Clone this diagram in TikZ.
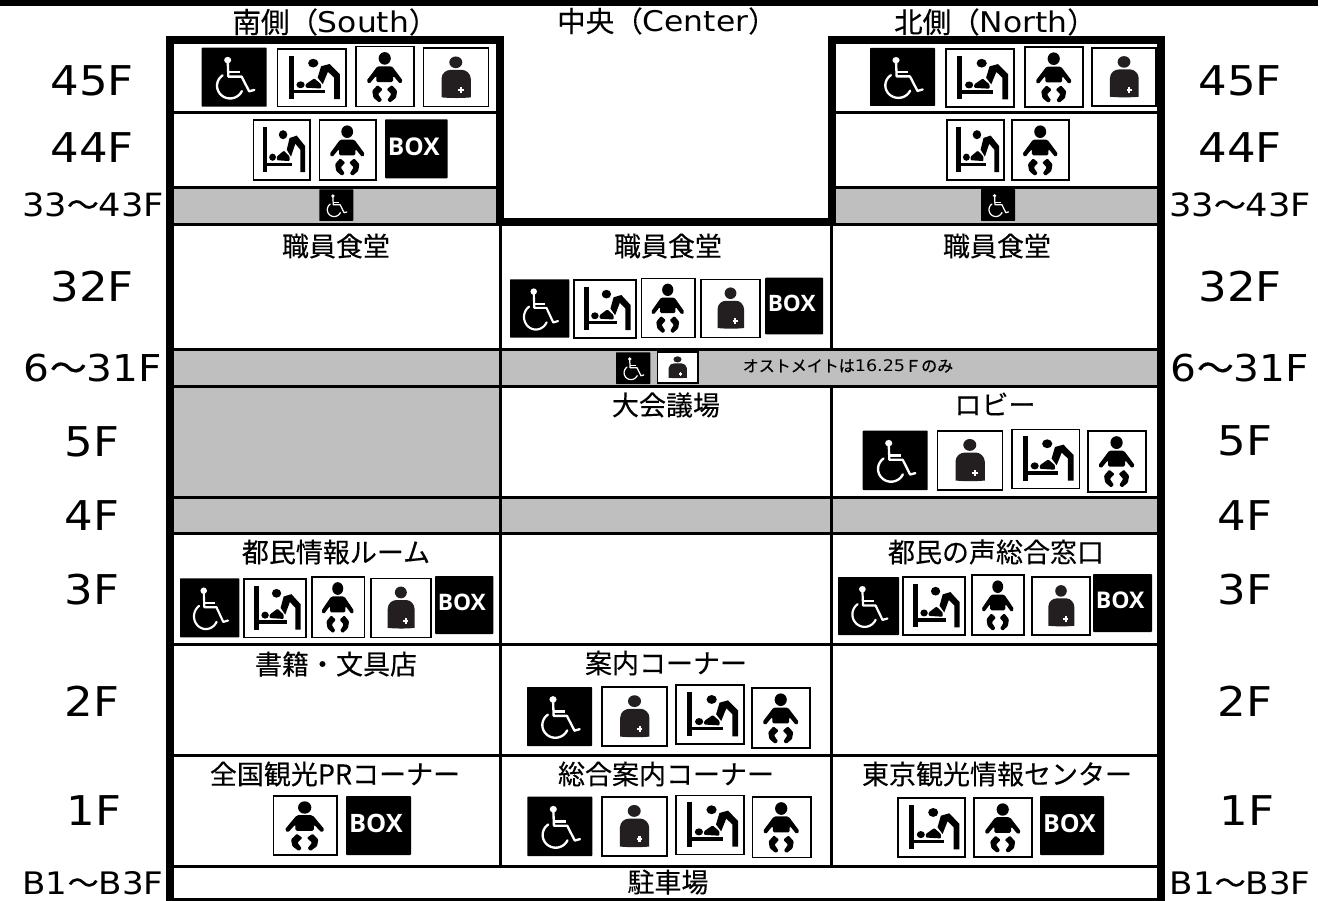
\documentclass[tikz,border=0pt]{standalone}
\usepackage{fontspec}
\setmainfont{Noto Sans CJK JP}[FakeBold=0.25]
\newfontfamily\notefont{Noto Sans CJK JP}[FakeBold=0.5]
\newfontfamily\lat{DejaVu Sans}[FakeStretch=1.1]
\newfontfamily\boxf{Open Sans}
\definecolor{band}{HTML}{BFBFBF}
\definecolor{ink}{HTML}{231F20}
\newcommand\fz[1]{\fontsize{#1}{#1}\selectfont}
\newcommand\icwc{%
  \fill[black,rounded corners=0.6pt] (0,0) rectangle (100,100);
  \pgfmathsetmacro\lw{\wid*0.036}
  \fill[white] (40,21) circle[radius=5.5pt];
  \draw[white,line width=\lw pt,line join=round,line cap=round] (40,22) -- (41,49) -- (61.5,49) -- (73,74) -- (81,71.5);
  \draw[white,line width=\lw pt] (41,41.7) -- (59,41.7);
  \draw[white,line width=\lw pt,line cap=round] plot[domain=125:335,samples=30,smooth,variable=\a] ({43.6+20*cos(\a)},{64.5-21.5*sin(\a)});
}
\newcommand\icframe{\draw[black,fill=white,line width=1.6pt] (0,0) rectangle (100,100);}
\newcommand\icchange{%
  \icframe
  \fill[black] (16.5,11.5) rectangle (24,87);
  \fill[black] (24,71) rectangle (69,77);
  \fill[black] (34,62) circle[radius=6pt];
  \fill[black,rounded corners=1pt] (41.5,61) -- (54,51) -- (64,61) -- (64,68.5) -- (41.5,67) -- cycle;
  \fill[black] (52.5,24.5) circle[radius=7.5pt];
  \fill[black,line join=round] (64,30) -- (76.5,26) -- (91.5,43.6) -- (91.5,87) -- (83,87) -- (83,49.5) -- (74,39.5) -- (66.5,61) -- (59,49.5) -- cycle;
}
\newcommand\icbaby{%
  \icframe
  \fill[black] (49.5,19.5) circle[radius=10.5pt];
  \fill[black,rounded corners=1.5pt] (37,32.6) -- (62,32.6) -- (81,57) -- (76,62) -- (64,48) -- (64,59) -- (35,59) -- (35,48) -- (23,62) -- (18,57) -- cycle;
  \fill[black,rounded corners=1pt] (37,64) -- (28,73.6) -- (30,85) -- (40,93) -- (45,89) -- (38,79) -- (46,71) -- cycle;
  \fill[black,rounded corners=1pt] (62,64) -- (71,73.6) -- (69,85) -- (59,93) -- (54,89) -- (61,79) -- (53,71) -- cycle;
}
\newcommand\icost{%
  \icframe
  \fill[ink] (50,24) circle[radius=10pt];
  \fill[ink] (28,84) -- (28,52) .. controls (28,42) and (36,37) .. (42,37) -- (60,37) .. controls (66,37) and (73,44) .. (73,52) -- (73,84) .. controls (60,85.5) and (42,85.5) .. (28,84) -- cycle;
  \fill[white] (54,70) rectangle (62,73.5);
  \fill[white] (56.2,66.5) rectangle (59.8,77);
}
\newcommand\icbox{%
  \fill[black,rounded corners=0.8pt] (0,0) rectangle (100,100);
  \pgfmathsetmacro\fs{\wid*0.39}
  \node[white,inner sep=0pt] (boxword) at (46,46) {\boxf\bfseries\fz{\fs}BOX};
}
\newcommand\ic[5]{%
  \begin{scope}[shift={(#2,#3)},xscale={(#4-#2)/100},yscale={(#5-#3)/100}]
  \pgfmathsetmacro\wid{#4-#2}
  \csname ic#1\endcsname
  \end{scope}}
\tikzset{
  floor/.style={inner sep=0pt,font=\lat},
  room/.style={inner sep=0pt,font=\fz{27}},
  head/.style={inner sep=0pt,font=\fz{28.5}},
  rowline/.style={black,line width=3pt},
  frameline/.style={black,line width=8pt,line join=miter},
}
\begin{document}
\begin{tikzpicture}[x=1pt,y=-1pt]
\clip (0,0) rectangle (1337,901);
\fill[white] (0,0) rectangle (1337,901);
% grey bands
\fill[band] (170,187) rectangle (500,225);
\fill[band] (832,187) rectangle (1160,225);
\fill[band] (170,349) rectangle (1160,387);
\fill[band] (170,387) rectangle (500,497);
\fill[band] (170,497) rectangle (1160,533);
% top bar
\fill[black] (0,0) rectangle (1318,6);
% rows
\draw[rowline] (170,113) -- (500,113);
\draw[rowline] (832,113) -- (1160,113);
\draw[rowline] (170,187.5) -- (500,187.5);
\draw[rowline] (832,187.5) -- (1160,187.5);
\draw[rowline] (170,224.5) -- (1160,224.5);
\foreach \yy in {349,386.5,497,533.5,644,755,866}
  \draw[rowline] (170,\yy) -- (1160,\yy);
\draw[rowline] (500,224) -- (500,866);
\draw[rowline] (831,224) -- (831,349);
\draw[rowline] (831,386.5) -- (831,866);
% frame
\draw[frameline] (832,222.5) -- (500,222.5) -- (500,40) -- (170,40) -- (170,902) -- (1160.5,902) -- (1160.5,40) -- (832,40) -- cycle;
% headers
\node[head] (hs) at (335,22) {南側（\lat South\rmfamily）};
\node[head] (hc) at (667,21) {中央（\lat Center\rmfamily）};
\node[head] (hn) at (995,22) {北側（\lat North\rmfamily）};
% floor labels
\node[floor,font=\lat\fz{41}] (l45) at (92,81) {45F};
\node[floor,font=\lat\fz{41}] (l44) at (92,148) {44F};
\node[floor,font=\fz{32}] (l33) at (93,205) {\lat 33\rmfamily～\lat 43F};
\node[floor,font=\lat\fz{41}] (l32) at (92,287) {32F};
\node[floor,font=\fz{37}] (l6) at (93,368) {\lat 6\rmfamily～\lat 31F};
\node[floor,font=\lat\fz{41}] (l5) at (92,442) {5F};
\node[floor,font=\lat\fz{41}] (l4) at (92,516) {4F};
\node[floor,font=\lat\fz{41}] (l3) at (92,590) {3F};
\node[floor,font=\lat\fz{41}] (l2) at (92,701) {2F};
\node[floor,font=\lat\fz{41}] (l1) at (94,811) {1F};
\node[floor,font=\fz{31}] (lb) at (93,883) {\lat B1\rmfamily～\lat B3F};
\node[floor,font=\lat\fz{41}] (r45) at (1240,81) {45F};
\node[floor,font=\lat\fz{41}] (r44) at (1240,148) {44F};
\node[floor,font=\fz{32}] (r33) at (1240,205) {\lat 33\rmfamily～\lat 43F};
\node[floor,font=\lat\fz{41}] (r32) at (1240,287) {32F};
\node[floor,font=\fz{37}] (r6) at (1240,368) {\lat 6\rmfamily～\lat 31F};
\node[floor,font=\lat\fz{41}] (r5) at (1245,441) {5F};
\node[floor,font=\lat\fz{41}] (r4) at (1245,516) {4F};
\node[floor,font=\lat\fz{41}] (r3) at (1245,590) {3F};
\node[floor,font=\lat\fz{41}] (r2) at (1245,701) {2F};
\node[floor,font=\lat\fz{41}] (r1) at (1247,811) {1F};
\node[floor,font=\fz{31}] (rb) at (1240,883) {\lat B1\rmfamily～\lat B3F};
% rooms
\node[room] (a1) at (336,246) {職員食堂};
\node[room] (a2) at (668,246) {職員食堂};
\node[room] (a3) at (997,246) {職員食堂};
\node[room] (a4) at (666,405) {大会議場};
\node[room] (a5) at (995,404) {ロビー};
\node[room] (a6) at (336,552) {都民情報ルーム};
\node[room] (a7) at (996,552) {都民の声総合窓口};
\node[room] (a8) at (336,664) {書籍・文具店};
\node[room] (a9) at (666,663) {案内コーナー};
\node[room] (a10) at (335,774) {全国観光PRコーナー};
\node[room] (a11) at (666,774) {総合案内コーナー};
\node[room] (a12) at (997,774) {東京観光情報センター};
\node[room] (a13) at (668,882) {駐車場};
\node[inner sep=0pt,font=\notefont\fz{16}] (note) at (848,366) {オストメイトは{\lat 16.25}Ｆのみ};
% icons: south
\ic{wc}{201.7}{47.7}{266.7}{106.7}
\ic{change}{277.3}{49}{345.7}{106.7}
\ic{baby}{356}{46.7}{414}{106.7}
\ic{ost}{423.3}{48.3}{488.3}{106.7}
\ic{change}{253.3}{120}{310}{180}
\ic{baby}{319.3}{120}{375.7}{180}
\ic{box}{385}{119.3}{447.7}{178.3}
\ic{wc}{319.3}{189.3}{353.3}{221}
\ic{wc}{180}{578.3}{239.3}{637.3}
\ic{change}{244}{579}{306}{637.3}
\ic{baby}{311.7}{576.7}{364.3}{637.3}
\ic{ost}{371}{578.3}{430.7}{637.3}
\ic{box}{435}{576}{493.3}{634}
\ic{baby}{273.3}{796}{336.7}{855}
\ic{box}{346}{796}{411}{855}
% icons: centre
\ic{wc}{510}{279.3}{569.3}{337.7}
\ic{change}{573.7}{280}{636}{337.7}
\ic{baby}{641.3}{278.3}{694.7}{337.3}
\ic{ost}{701}{279.3}{760}{337.3}
\ic{box}{765}{277.7}{823}{334.3}
\ic{wc}{616}{352.3}{650.3}{384}
\ic{ost}{657.3}{352}{697.7}{382.7}
\ic{wc}{527}{687}{592}{746}
\ic{ost}{602}{687}{667}{746}
\ic{change}{676}{685}{744}{744}
\ic{baby}{752}{688}{810}{748}
\ic{wc}{527.3}{796.7}{592.3}{856}
\ic{ost}{601.7}{796.7}{666.7}{856}
\ic{change}{675.7}{795.3}{744}{854.3}
\ic{baby}{752.3}{796.7}{810.7}{857.3}
% icons: north
\ic{wc}{870}{48}{935}{106}
\ic{change}{946}{49}{1014}{107}
\ic{baby}{1025}{47}{1083}{107}
\ic{ost}{1092}{48}{1156}{106}
\ic{change}{947}{120}{1004}{180}
\ic{baby}{1012}{120}{1069}{180}
\ic{wc}{981}{189}{1015}{221}
\ic{wc}{862.7}{430.7}{927.7}{490}
\ic{ost}{937.3}{430.7}{1002.3}{490}
\ic{change}{1011.7}{429.3}{1079.3}{488.3}
\ic{baby}{1087.7}{430.7}{1146}{491.7}
\ic{wc}{838}{577}{899}{635}
\ic{change}{903}{577}{965}{635}
\ic{baby}{972}{575}{1024}{635}
\ic{ost}{1032}{577}{1090}{635}
\ic{box}{1093}{574}{1152}{632}
\ic{change}{898}{798}{965}{857}
\ic{baby}{974}{798}{1032}{857}
\ic{box}{1040}{796}{1104}{855}
\end{tikzpicture}
\end{document}
